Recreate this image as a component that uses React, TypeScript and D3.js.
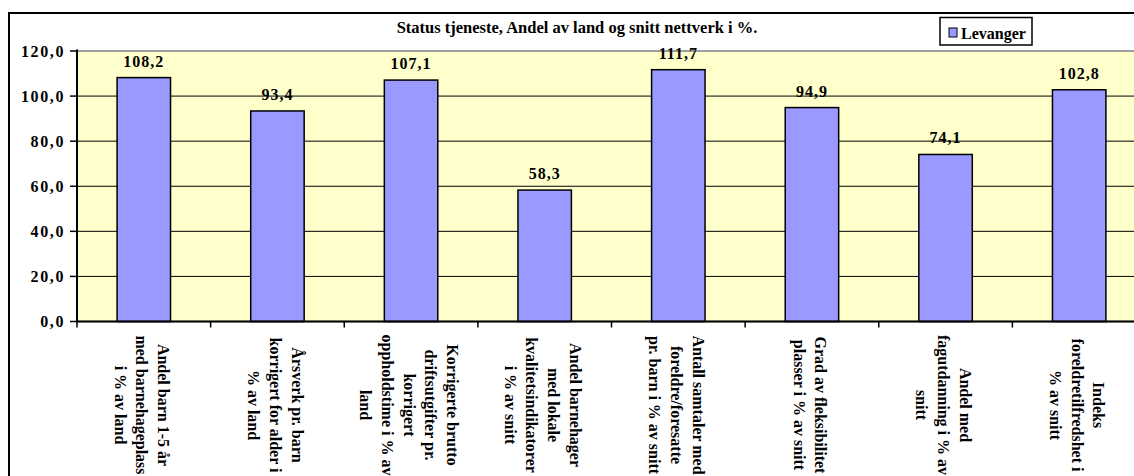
import React, { useEffect, useRef } from 'react';
import * as d3 from 'd3';

const title = 'Status tjeneste, Andel av land og snitt nettverk i %.';
const seriesName = 'Levanger';

// each category label is already broken into lines as in the chart
const categories: string[][] = [
  ['Andel barn 1-5 år', 'med barnehageplass', 'i % av land'],
  ['Årsverk pr. barn', 'korrigert for alder i', '% av land'],
  ['Korrigerte brutto', 'driftsutgifter pr.', 'korrigert', 'oppholdstime i % av', 'land'],
  ['Andel barnehager', 'med lokale', 'kvalitetsindikatorer', 'i % av snitt'],
  ['Antall samtaler med', 'foreldre/foresatte', 'pr. barn i % av snitt'],
  ['Grad av fleksibilitet', 'plasser i % av snitt'],
  ['Andel med', 'fagutdanning i % av', 'snitt'],
  ['Indeks', 'foreldretilfredshet i', '% av snitt'],
];
const values = [108.2, 93.4, 107.1, 58.3, 111.7, 94.9, 74.1, 102.8];
const yTicks = [0, 20, 40, 60, 80, 100, 120];

const WIDTH = 1134;
const HEIGHT = 476;
const FONT = '"Liberation Serif", "Times New Roman", serif';

const fmt = (v: number) => v.toFixed(1).replace('.', ',');

const App: React.FC = () => {
  const svgRef = useRef<SVGSVGElement>(null);

  useEffect(() => {
    if (!svgRef.current) return;
    const svg = d3.select(svgRef.current);
    svg.selectAll('*').remove();

    const plotLeft = 77;
    const plotRight = 1146; // runs past the visible edge, like the original
    const x = d3.scaleBand<number>()
      .domain(d3.range(categories.length))
      .range([plotLeft, plotRight])
      .paddingInner(0.6)
      .paddingOuter(0.3);
    const y = d3.scaleLinear().domain([0, 120]).range([321.5, 51]);

    // outer chart frame
    svg.append('rect')
      .attr('x', 9).attr('y', 13)
      .attr('width', 1300).attr('height', 700)
      .attr('fill', '#ffffff')
      .attr('stroke', '#000000')
      .attr('stroke-width', 2);

    // plot area
    svg.append('rect')
      .attr('x', plotLeft).attr('y', y(120))
      .attr('width', plotRight - plotLeft).attr('height', y(0) - y(120))
      .attr('fill', '#FFFFCC')
      .attr('stroke', '#808080')
      .attr('stroke-width', 1.5);

    // gridlines
    svg.append('g')
      .selectAll('line')
      .data(yTicks.filter(t => t > 0 && t < 120))
      .enter()
      .append('line')
      .attr('x1', plotLeft).attr('x2', plotRight)
      .attr('y1', d => y(d)).attr('y2', d => y(d))
      .attr('stroke', '#000000')
      .attr('stroke-width', 1);

    // bars
    svg.append('g')
      .selectAll('rect')
      .data(values)
      .enter()
      .append('rect')
      .attr('x', (_, i) => x(i)!)
      .attr('y', d => y(d))
      .attr('width', x.bandwidth())
      .attr('height', d => y(0) - y(d))
      .attr('fill', '#9999FF')
      .attr('stroke', '#000000')
      .attr('stroke-width', 1.5);

    // value labels
    svg.append('g')
      .selectAll('text')
      .data(values)
      .enter()
      .append('text')
      .attr('x', (_, i) => x(i)! + x.bandwidth() / 2)
      .attr('y', d => y(d) - 11)
      .attr('text-anchor', 'middle')
      .attr('font-family', FONT)
      .attr('font-weight', 'bold')
      .attr('font-size', '16px')
      .attr('letter-spacing', '1px')
      .attr('fill', '#000000')
      .text(d => fmt(d));

    // y axis
    svg.append('line')
      .attr('x1', plotLeft).attr('x2', plotLeft)
      .attr('y1', y(120) - 1.5).attr('y2', y(0))
      .attr('stroke', '#000000').attr('stroke-width', 2);
    const yAxis = svg.append('g');
    yAxis.selectAll('line')
      .data(yTicks)
      .enter()
      .append('line')
      .attr('x1', 70).attr('x2', plotLeft)
      .attr('y1', d => y(d)).attr('y2', d => y(d))
      .attr('stroke', '#000000').attr('stroke-width', 1.5);
    yAxis.selectAll('text')
      .data(yTicks)
      .enter()
      .append('text')
      .attr('x', 65)
      .attr('y', d => y(d))
      .attr('text-anchor', 'end')
      .attr('dominant-baseline', 'central')
      .attr('font-family', FONT)
      .attr('font-weight', 'bold')
      .attr('font-size', '16px')
      .attr('letter-spacing', '1.6px')
      .text(d => fmt(d));

    // x axis
    svg.append('line')
      .attr('x1', plotLeft - 1).attr('x2', plotRight)
      .attr('y1', y(0)).attr('y2', y(0))
      .attr('stroke', '#000000').attr('stroke-width', 2);
    const step = x.step();
    svg.append('g')
      .selectAll('line')
      .data(d3.range(categories.length + 1))
      .enter()
      .append('line')
      .attr('x1', i => plotLeft + i * step).attr('x2', i => plotLeft + i * step)
      .attr('y1', y(0)).attr('y2', y(0) + 6)
      .attr('stroke', '#000000').attr('stroke-width', 1.5);

    // category labels, rotated to read top-down
    const lineGap = 21.7;
    const labels = svg.append('g');
    categories.forEach((lines, i) => {
      const cx = x(i)! + x.bandwidth() / 2 - 2;
      lines.forEach((line, j) => {
        const off = (j - (lines.length - 1) / 2) * lineGap;
        labels.append('text')
          .attr('transform', `translate(${cx - off},405) rotate(90)`)
          .attr('text-anchor', 'middle')
          .attr('dominant-baseline', 'central')
          .attr('font-family', FONT)
          .attr('font-weight', 'bold')
          .attr('font-size', '16px')
          .text(line);
      });
    });

    // title
    svg.append('text')
      .attr('x', 577)
      .attr('y', 33)
      .attr('text-anchor', 'middle')
      .attr('font-family', FONT)
      .attr('font-weight', 'bold')
      .attr('font-size', '16.5px')
      .text(title);

    // legend
    const legend = svg.append('g');
    legend.append('rect')
      .attr('x', 940).attr('y', 17.5)
      .attr('width', 92).attr('height', 27.5)
      .attr('fill', '#ffffff')
      .attr('stroke', '#000000').attr('stroke-width', 1.5);
    legend.append('rect')
      .attr('x', 949).attr('y', 28)
      .attr('width', 8).attr('height', 9)
      .attr('fill', '#9999FF')
      .attr('stroke', '#000000').attr('stroke-width', 1);
    legend.append('text')
      .attr('x', 961).attr('y', 38.5)
      .attr('font-family', FONT)
      .attr('font-weight', 'bold')
      .attr('font-size', '16px')
      .text(seriesName);
  }, []);

  return (
    <svg
      ref={svgRef}
      width={WIDTH}
      height={HEIGHT}
      style={{ position: 'absolute', left: 0, top: 0, background: '#ffffff' }}
    />
  );
};

export default App;
